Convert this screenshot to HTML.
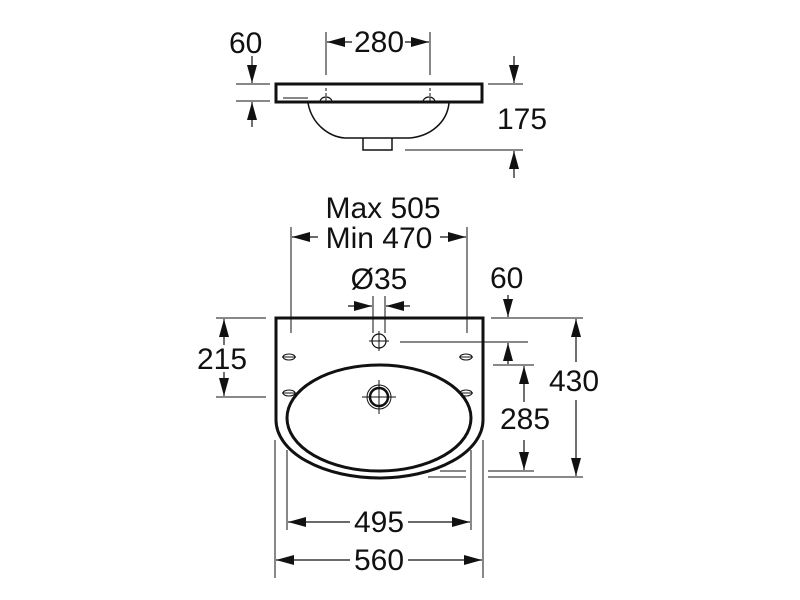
<!DOCTYPE html>
<html><head><style>body{margin:0;background:#fff}svg{display:block}text{font-family:"Liberation Sans",sans-serif;font-size:30px;fill:#111}</style></head><body>
<svg width="800" height="600" viewBox="0 0 800 600">
<defs>
<marker id="a" viewBox="0 0 18 10" refX="18" refY="5" markerWidth="18" markerHeight="10" markerUnits="userSpaceOnUse" orient="auto"><path d="M0,0 L18,5 L0,10 z" fill="#111"/></marker>
</defs>
<g stroke="#111" fill="none">
<path d="M276,84 H482 V102 H276 Z" stroke-width="3"/>
<path d="M283,98 H308" stroke-width="1"/>
<path d="M308,103 C312,125 330,137 345,138 H410 C430,136 447,123 449,103" stroke-width="1.5"/>
<path d="M363,138 V150 H392 V138" stroke-width="1.5"/>
<path d="M320,102 a6,5 0 0 1 12,0 M423,102 a6,5 0 0 1 12,0" stroke-width="1.2"/>
<line x1="326" y1="32" x2="326" y2="75" stroke-width="1"/>
<line x1="430" y1="32" x2="430" y2="75" stroke-width="1"/>
<line x1="326" y1="88" x2="326" y2="102" stroke-width="1" stroke-dasharray="3,2"/>
<line x1="430" y1="88" x2="430" y2="102" stroke-width="1" stroke-dasharray="3,2"/>
<line x1="352" y1="42" x2="327" y2="42" stroke-width="1.2" marker-end="url(#a)"/>
<line x1="405" y1="42" x2="429" y2="42" stroke-width="1.2" marker-end="url(#a)"/>
<line x1="236" y1="84" x2="270" y2="84" stroke-width="1"/>
<line x1="236" y1="101" x2="270" y2="101" stroke-width="1"/>
<line x1="252" y1="56" x2="252" y2="83" stroke-width="1.2" marker-end="url(#a)"/>
<line x1="252" y1="127" x2="252" y2="102" stroke-width="1.2" marker-end="url(#a)"/>
<line x1="488" y1="84" x2="523" y2="84" stroke-width="1"/>
<line x1="405" y1="150" x2="523" y2="150" stroke-width="1"/>
<line x1="514" y1="56" x2="514" y2="83" stroke-width="1.2" marker-end="url(#a)"/>
<line x1="514" y1="178" x2="514" y2="151" stroke-width="1.2" marker-end="url(#a)"/>
<path d="M276,318 H483 V420 A103.5,58 0 0 1 276,420 Z" stroke-width="3"/>
<ellipse cx="379" cy="418" rx="92" ry="53" stroke-width="3"/>
<circle cx="379" cy="397" r="9" stroke-width="2.5"/>
<circle cx="379" cy="397" r="12" stroke-width="1"/>
<path d="M362,397 H396 M379,380 V414" stroke-width="1"/>
<circle cx="379" cy="341" r="7" stroke-width="1.2"/>
<path d="M369,341 H389 M379,331 V351" stroke-width="1"/>
<g stroke-width="1">
<ellipse cx="289" cy="357" rx="6" ry="3"/><path d="M282,357 H296"/>
<ellipse cx="466" cy="357" rx="6" ry="3"/><path d="M459,357 H473"/>
<ellipse cx="289" cy="393" rx="6" ry="3"/><path d="M282,393 H296"/>
<ellipse cx="466" cy="393" rx="6" ry="3"/><path d="M459,393 H473"/>
</g>
<line x1="291" y1="227" x2="291" y2="333" stroke-width="1"/>
<line x1="467" y1="227" x2="467" y2="333" stroke-width="1"/>
<line x1="318" y1="237" x2="292" y2="237" stroke-width="1.2" marker-end="url(#a)"/>
<line x1="440" y1="237" x2="466" y2="237" stroke-width="1.2" marker-end="url(#a)"/>
<line x1="373" y1="296" x2="373" y2="333" stroke-width="1"/>
<line x1="385" y1="296" x2="385" y2="333" stroke-width="1"/>
<line x1="348" y1="306" x2="372" y2="306" stroke-width="1.2" marker-end="url(#a)"/>
<line x1="410" y1="306" x2="386" y2="306" stroke-width="1.2" marker-end="url(#a)"/>
<line x1="216" y1="318" x2="266" y2="318" stroke-width="1"/>
<line x1="216" y1="397" x2="266" y2="397" stroke-width="1"/>
<line x1="224" y1="345" x2="224" y2="319" stroke-width="1.2" marker-end="url(#a)"/>
<line x1="224" y1="372" x2="224" y2="396" stroke-width="1.2" marker-end="url(#a)"/>
<line x1="491" y1="318" x2="583" y2="318" stroke-width="1"/>
<line x1="400" y1="342" x2="528" y2="342" stroke-width="1"/>
<line x1="508" y1="295" x2="508" y2="317" stroke-width="1.2" marker-end="url(#a)"/>
<line x1="508" y1="364" x2="508" y2="343" stroke-width="1.2" marker-end="url(#a)"/>
<line x1="493" y1="365" x2="534" y2="365" stroke-width="1"/>
<line x1="488" y1="471" x2="534" y2="471" stroke-width="1"/>
<line x1="440" y1="471" x2="466" y2="471" stroke-width="1"/>
<line x1="428" y1="477" x2="466" y2="477" stroke-width="1"/>
<line x1="488" y1="477" x2="583" y2="477" stroke-width="1"/>
<line x1="524" y1="402" x2="524" y2="366" stroke-width="1.2" marker-end="url(#a)"/>
<line x1="524" y1="440" x2="524" y2="470" stroke-width="1.2" marker-end="url(#a)"/>
<line x1="576" y1="362" x2="576" y2="319" stroke-width="1.2" marker-end="url(#a)"/>
<line x1="576" y1="400" x2="576" y2="476" stroke-width="1.2" marker-end="url(#a)"/>
<line x1="275" y1="440" x2="275" y2="578" stroke-width="1"/>
<line x1="483" y1="440" x2="483" y2="578" stroke-width="1"/>
<line x1="287" y1="450" x2="287" y2="530" stroke-width="1"/>
<line x1="471" y1="450" x2="471" y2="530" stroke-width="1"/>
<line x1="350" y1="522" x2="288" y2="522" stroke-width="1.2" marker-end="url(#a)"/>
<line x1="408" y1="522" x2="470" y2="522" stroke-width="1.2" marker-end="url(#a)"/>
<line x1="350" y1="560" x2="276" y2="560" stroke-width="1.2" marker-end="url(#a)"/>
<line x1="408" y1="560" x2="482" y2="560" stroke-width="1.2" marker-end="url(#a)"/>
</g>
<text x="229" y="53">60</text>
<text x="379" y="52" text-anchor="middle">280</text>
<text x="497" y="129">175</text>
<text x="383" y="218" text-anchor="middle">Max 505</text>
<text x="379" y="248" text-anchor="middle">Min 470</text>
<text x="379" y="289" text-anchor="middle">Ø35</text>
<text x="490" y="288">60</text>
<text x="197" y="369">215</text>
<text x="500" y="429">285</text>
<text x="549" y="391">430</text>
<text x="379" y="532" text-anchor="middle">495</text>
<text x="379" y="570" text-anchor="middle">560</text>
</svg>
</body></html>
